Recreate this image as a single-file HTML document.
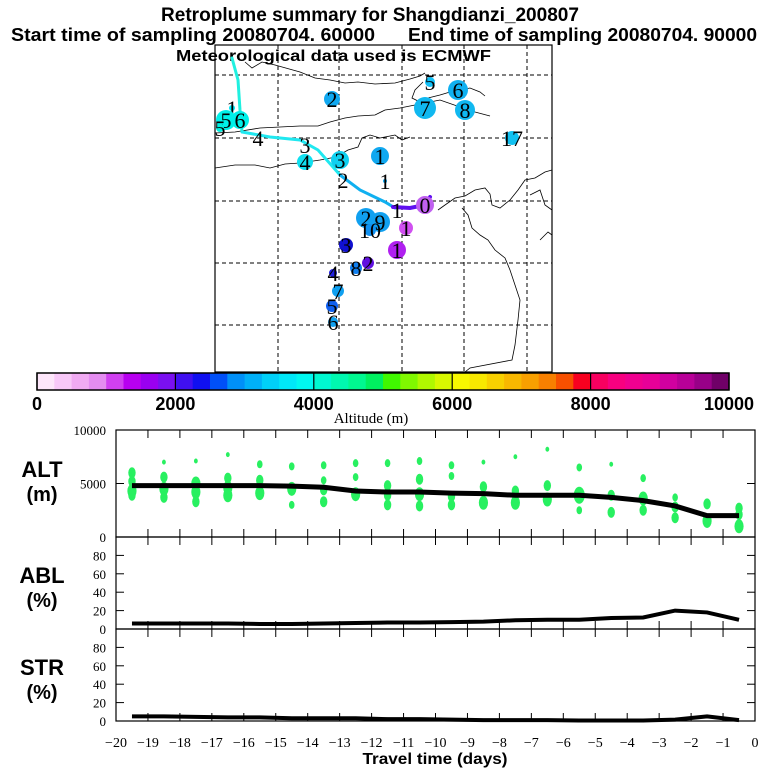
<!DOCTYPE html>
<html><head><meta charset="utf-8"><style>
body{margin:0;background:#fff}
svg{display:block}
.t{font-family:"Liberation Sans",sans-serif;font-weight:bold}
.s{font-family:"Liberation Serif",serif}
</style></head><body>
<svg id="c" width="768" height="768" viewBox="0 0 768 768" xmlns="http://www.w3.org/2000/svg">
<text class="t" x="370" y="21" font-size="19" text-anchor="middle" textLength="418" lengthAdjust="spacingAndGlyphs">Retroplume summary for Shangdianzi_200807</text>
<text class="t" x="11" y="41" font-size="18" textLength="364" lengthAdjust="spacingAndGlyphs">Start time of sampling 20080704. 60000</text>
<text class="t" x="408" y="41" font-size="18" textLength="349" lengthAdjust="spacingAndGlyphs">End time of sampling 20080704. 90000</text>
<text class="t" x="176" y="61" font-size="16" textLength="315" lengthAdjust="spacingAndGlyphs">Meteorological data used is ECMWF</text>

<g id="map">
<rect x="215" y="45" width="337" height="327" fill="none" stroke="#000" stroke-width="1.2"/>
<g stroke="#000" stroke-dasharray="4,3" stroke-width="1">
<line x1="278" y1="45" x2="278" y2="372"/><line x1="339" y1="45" x2="339" y2="372"/><line x1="402" y1="45" x2="402" y2="372"/><line x1="464" y1="45" x2="464" y2="372"/><line x1="527" y1="45" x2="527" y2="372"/>
<line x1="215" y1="75" x2="552" y2="75"/><line x1="215" y1="138" x2="552" y2="138"/><line x1="215" y1="201" x2="552" y2="201"/><line x1="215" y1="263" x2="552" y2="263"/><line x1="215" y1="325" x2="552" y2="325"/>
</g>
<g fill="none" stroke="#000" stroke-width="0.8">
<path d="M245,62 L252,68 L262,62 L275,65 L300,72 L315,78 L330,80 L345,83 L358,82 L375,84 L395,83 L410,79 L420,76 L425,73"/>
<path d="M423,82 L415,90 L412,98 L420,102 L428,98 L440,95 L450,92 L460,90 L470,88 L480,92 L485,96"/>
<path d="M215,133 L235,132 L260,128 L280,127 L300,126 L318,126 L330,122 L345,118 L358,116 L375,115 L385,110 L400,108 L420,104 L440,100 L460,107 L475,112 L490,116"/>
<path d="M215,168 L235,165 L255,165 L270,168 L285,164 L300,163 L320,160 L336,157 L348,150 L358,147 L362,138 L370,135 L380,138 L395,135 L402,140 L410,137"/>
<path d="M438,210 L445,205 L455,198 L465,196 L475,190 L485,188 L490,194 L492,205 L500,208 L510,200 L518,190 L525,180 L535,178 L545,172 L552,170"/>
<path d="M462,208 L468,215 L472,228 L480,235 L488,240 L495,250 L505,258 L510,270 L515,285 L520,300 L518,320 L515,345 L512,360 L470,368 L465,372"/>
<path d="M530,195 L540,190 L545,205 L552,210"/><path d="M540,240 L548,232 L552,235"/>
</g>
<g fill="none" stroke-linecap="round">
<polyline points="232,58 238,80 240,110 242,132" stroke="#20f0e0" stroke-width="3"/>
<polyline points="242,132 270,137 300,140 318,150 340,175" stroke="#20e8f0" stroke-width="3"/>
<polyline points="340,175 360,190 385,202 395,208" stroke="#10b0f0" stroke-width="3"/>
<polyline points="393,207 410,208 425,205 430,197" stroke="#6010f0" stroke-width="4"/>
</g>
<g id="mapdots"></g>
</g>

<g id="cbar"></g>
<text class="s" x="371" y="423" font-size="15" text-anchor="middle">Altitude (m)</text>

<g id="panels"></g>
<text class="t" x="435" y="764" font-size="16" text-anchor="middle" textLength="145" lengthAdjust="spacingAndGlyphs">Travel time (days)</text>
<text class="t" x="42" y="477" font-size="22" text-anchor="middle">ALT</text>
<text class="t" x="42" y="501" font-size="20" text-anchor="middle">(m)</text>
<text class="t" x="42" y="583" font-size="22" text-anchor="middle">ABL</text>
<text class="t" x="42" y="607" font-size="20" text-anchor="middle">(%)</text>
<text class="t" x="42" y="675" font-size="22" text-anchor="middle">STR</text>
<text class="t" x="42" y="699" font-size="20" text-anchor="middle">(%)</text>
</svg>
<script>
const NS='http://www.w3.org/2000/svg';
const svg=document.getElementById('c');
function mk(tag,attrs,parent){const e=document.createElementNS(NS,tag);for(const k in attrs)e.setAttribute(k,attrs[k]);(parent||svg).appendChild(e);return e;}

// colorbar data
const cbarColors=['#fde6fa','#f8c8f8','#f0aaf2','#e48cf0','#d040f0','#b800f0','#9a00f0','#7a10f0','#4010f0','#1010f0','#0050f8','#0090f8','#00b0f8','#00d0f8','#00e8f8','#00f8f0','#00f8d0','#00f8b0','#00f890','#00f060','#40f800','#80f800','#b0f800','#d8f800','#f8f800','#f8e800','#f8d000','#f8b800','#f8a000','#f88000','#f85000','#f80020','#f80060','#f80080','#f00090','#e80098','#d000a0','#b80098','#980088','#700068'];
const cbarTicks=[0,2000,4000,6000,8000,10000];

// time-series data
const days=[-19.5,-18.5,-17.5,-16.5,-15.5,-14.5,-13.5,-12.5,-11.5,-10.5,-9.5,-8.5,-7.5,-6.5,-5.5,-4.5,-3.5,-2.5,-1.5,-0.5];
const altMean=[4800,4800,4800,4800,4800,4750,4650,4300,4200,4200,4100,4050,3900,3900,3900,3700,3400,2900,2000,2000];
const ablMean=[6,6,6,6,5.5,5.5,6,6.5,7,7,7.5,8,9.5,10,10,12,12.5,20,18,10];
const strMean=[5,5,4.5,4,4,3,3,3,2,2,1.5,1,1,1,0.5,0.5,0.5,1.5,5,1];
const xTicks=[-20,-19,-18,-17,-16,-15,-14,-13,-12,-11,-10,-9,-8,-7,-6,-5,-4,-3,-2,-1,0];
const altTicks=[0,5000,10000];
const pctTicks=[0,20,40,60,80];
const altBlobs=[
[[6000,3],[5200,3],[4300,4],[3900,3]],
[[7000,1],[5600,3],[4500,4],[3700,3]],
[[7100,1],[5000,4],[4200,4],[3300,3]],
[[7700,1],[5500,3],[4600,4],[3900,4]],
[[6800,2],[5300,3],[4100,4]],
[[6600,2],[4500,4],[3000,2]],
[[6700,2],[5300,2],[4400,3],[3300,3]],
[[6900,2],[5600,2],[4000,4]],
[[6900,2],[4800,3],[3900,3],[3000,3]],
[[7100,2],[5400,3],[4000,4],[2900,3]],
[[6700,2],[5700,2],[3800,3],[3000,3]],
[[7000,1],[4700,3],[3200,4]],
[[7500,1],[4300,3],[3200,4]],
[[8200,1],[4800,3],[3500,4]],
[[6500,2],[3900,5],[2500,2]],
[[6800,1],[3900,3],[2300,3]],
[[5500,2],[3600,4],[2500,3]],
[[3700,2],[2800,3],[1800,3]],
[[3100,3],[1500,4]],
[[2700,3],[2100,3],[1000,4]]];
const mapMarkers=[[232,108,3,'#00e8f8','1'],[332,99,8,'#10a8f0','2'],[430,82,5,'#10c0f8','5'],[458,90,10,'#10b0f0','6'],[425,108,11,'#10b8f0','7'],[465,110,10,'#10b8f0','8'],[226,120,10,'#00f0e8','5'],[240,120,9,'#00f0e8','6'],[258,138,0,'#000','4'],[305,145,0,'#000','3'],[305,162,8,'#10e0f0','4'],[340,160,9,'#10d0f0','3'],[343,180,0,'#000','2'],[380,156,9,'#10a8f0','1'],[385,181,2,'#10a8f0','1'],[512,138,7,'#10c0f0','17'],[366,218,10,'#10a0f0','2'],[380,222,10,'#10a0f0','9'],[370,230,6,'#1090f0','10'],[397,210,0,'#000','1'],[406,228,7,'#d050f0','1'],[397,250,9,'#b020f0','1'],[425,205,9,'#c060f0','0'],[346,245,7,'#1010d0','3'],[356,268,6,'#1080f0','8'],[368,263,6,'#6010e0','2'],[333,273,4,'#2020e0','4'],[338,291,6,'#10a0f0','7'],[332,306,6,'#1060f0','5'],[333,322,5,'#10a0f0','6'],[220,128,4,'#00f0e0','5']];

const cb=document.getElementById('cbar');
const cbX0=37,cbX1=729,cbY=373,cbH=17;
const cbScale=v=>cbX0+(v/10000)*(cbX1-cbX0);
cbarColors.forEach((c,i)=>{const r=mk('rect',{x:cbScale(i*250),y:cbY,width:(cbX1-cbX0)/40+0.5,height:cbH,fill:c},cb);

});
mk('rect',{x:cbX0,y:cbY,width:cbX1-cbX0,height:cbH,fill:'none',stroke:'#000','stroke-width':1.5},cb);
cbarTicks.forEach(v=>{const x=cbScale(v);mk('line',{x1:x,y1:cbY,x2:x,y2:cbY+cbH,stroke:'#000','stroke-width':1.2},cb);
const t=mk('text',{x:x,y:410,'text-anchor':'middle','font-size':18,class:'t'},cb);t.textContent=v;

});

const md=document.getElementById('mapdots');
mapMarkers.forEach(m=>{if(m[2]>0){const c=mk('circle',{cx:m[0],cy:m[1],r:m[2],fill:m[3]},md);

}
const t=mk('text',{x:m[0],y:m[1]+8,'text-anchor':'middle','font-size':22,class:'s'},md);t.textContent=m[4];

});

const PX0=116,PX1=755;
const xs=d=>PX0+(d+20)/20*(PX1-PX0);
const pg=document.getElementById('panels');
function panel(name,top,bot,vmax,ticks,showX){
 const g=mk('g',{},pg);
 
 
 const ys=v=>bot-(v/vmax)*(bot-top);
 mk('rect',{x:PX0,y:top,width:PX1-PX0,height:bot-top,fill:'none',stroke:'#000','stroke-width':1.2},g);
 xTicks.forEach(d=>{const x=xs(d);mk('line',{x1:x,y1:top,x2:x,y2:top+8,stroke:'#000'},g);mk('line',{x1:x,y1:bot,x2:x,y2:bot-8,stroke:'#000'},g);
  if(showX){const t=mk('text',{x:x,y:bot+26,'text-anchor':'middle','font-size':14,class:'s'},g);t.textContent=d<0?'\u2212'+(-d):d;
  
  }});
 ticks.forEach(v=>{const y=ys(v);mk('line',{x1:PX0,y1:y,x2:PX0+8,y2:y,stroke:'#000'},g);mk('line',{x1:PX1,y1:y,x2:PX1-8,y2:y,stroke:'#000'},g);
  const t=mk('text',{x:PX0-10,y:y+5,'text-anchor':'end','font-size':13,class:'s'},g);t.textContent=v;
  
  });
 return {g,ys};
}
const alt=panel('alt',430,537,10000,altTicks,false);
altBlobs.forEach((arr,i)=>arr.forEach(b=>{const e=mk('ellipse',{cx:xs(days[i]),cy:alt.ys(b[0]),rx:b[1]*0.9+1,ry:b[1]*1.5+1,fill:'#28f060'},alt.g);

}));
function line(p,vals,w){const l=mk('polyline',{points:vals.map((v,i)=>xs(days[i])+','+p.ys(v)).join(' '),fill:'none',stroke:'#000','stroke-width':w},p.g);

}
line(alt,altMean,5);
const abl=panel('abl',537,629,100,pctTicks,false);
line(abl,ablMean,4);
const str=panel('str',629,721,100,pctTicks,true);
line(str,strMean,4);
</script>
</body></html>
